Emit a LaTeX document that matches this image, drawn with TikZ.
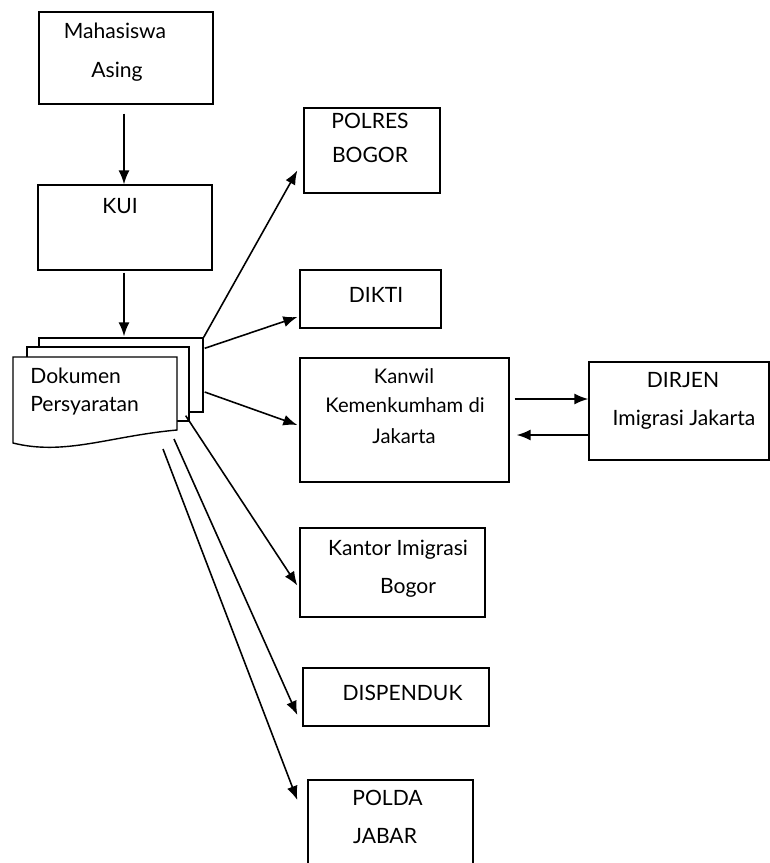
\documentclass[tikz,border=0pt]{standalone}
\usepackage{fontspec}
\setmainfont{Lato}
\usetikzlibrary{arrows.meta,calc}

\begin{document}
\begin{tikzpicture}[x=0.02cm,y=-0.02cm,
    box/.style={draw,line width=0.8pt,inner sep=0pt},
    sheet/.style={draw,line width=0.8pt,fill=white},
    lbl/.style={font=\fontsize{12}{14}\selectfont,inner sep=0pt,anchor=base},
    small/.style={lbl,font=\fontsize{11.5}{14}\selectfont},
    arr/.style={line width=0.9pt,-{Latex[length=2.8mm,width=2.2mm]}}]
  \clip (0,0) rectangle (770,863);
  \fill[white] (0,0) rectangle (770,863);

  % left column
  \node[box,minimum width=3.48cm,minimum height=1.84cm] (mhs) at (126,58) {};
  \node[lbl] (mhsA) at (115,38) {Mahasiswa};
  \node[lbl] (mhsB) at (117,77) {Asing};
  \node[box,minimum width=3.48cm,minimum height=1.70cm] (kui) at (125,227.5) {};
  \node[lbl] (kuiT) at (120,213) {KUI};

  % stack of papers
  \node[sheet,minimum width=3.28cm,minimum height=1.48cm,inner sep=0pt] (docA) at (121,375) {};
  \node[sheet,minimum width=3.24cm,minimum height=1.48cm,inner sep=0pt] (docB) at (108,384) {};
  \draw[sheet] (13,357) -- (177,357) -- (177,430)
    .. controls (110,436) and (65,456) .. (13,443) -- cycle;
  \node[lbl,anchor=base west] (docT1) at (30,383) {Dokumen};
  \node[lbl,anchor=base west] (docT2) at (30,411) {Persyaratan};
  \coordinate (s5) at (174,439);
  \coordinate (s6) at (163,449);

  % right column
  \node[box,minimum width=2.72cm,minimum height=1.70cm] (polres) at (372,150.5) {};
  \node[lbl] (polresA) at (370,128) {POLRES};
  \node[lbl] (polresB) at (370,162) {BOGOR};
  \node[box,minimum width=2.82cm,minimum height=1.16cm] (dikti) at (370.5,299) {};
  \node[lbl] (diktiT) at (376,302) {DIKTI};
  \node[box,minimum width=4.18cm,minimum height=2.48cm] (kanwil) at (404.5,420) {};
  \node[small] (kanwilA) at (404,383) {Kanwil};
  \node[small] (kanwilB) at (405,412) {Kemenkumham di};
  \node[small] (kanwilC) at (404,443) {Jakarta};
  \node[box,minimum width=3.60cm,minimum height=1.96cm] (dirjen) at (679,411) {};
  \node[lbl] (dirjenA) at (683,387) {DIRJEN};
  \node[lbl] (dirjenB) at (684,425) {Imigrasi Jakarta};
  \node[box,minimum width=3.70cm,minimum height=1.78cm] (kantor) at (392.5,572.5) {};
  \node[lbl] (kantorA) at (398,555) {Kantor Imigrasi};
  \node[lbl] (kantorB) at (408,593) {Bogor};
  \node[box,minimum width=3.72cm,minimum height=1.16cm] (dispenduk) at (396,697) {};
  \node[lbl] (dispendukT) at (402.5,700) {DISPENDUK};
  \node[box,minimum width=3.30cm,minimum height=1.90cm] (polda) at (390.5,827.5) {};
  \node[lbl] (poldaA) at (387.5,805) {POLDA};
  \node[lbl] (poldaB) at (385,843) {JABAR};

  % arrows
  \draw[arr] ($(mhs.south)+(-2,9)$) -- ($(kui.north)+(-1,0)$);
  \draw[arr] ($(kui.south)+(-1,2)$) -- ($(docA.north)+(3,-1)$);
  \draw[arr] (docA.north east) -- ($(polres.west)+(-6,20)$);
  \draw[arr] ($(docA.north east)+(1,11)$) -- ($(dikti.west)+(-2,18)$);
  \draw[arr] ($(docA.east)+(1,17)$) -- ($(kanwil.west)+(-2,5)$);
  \draw[arr] ($(docB.south east)+(-4,-6)$) -- ($(kantor.west)+(-2,13)$);
  \draw[arr] (s5) -- ($(dispenduk.west)+(-5,18)$);
  \draw[arr] (s6) -- ($(polda.west)+(-10,-27.5)$);
  \draw[arr] ($(kanwil.east)+(5,-21)$) -- ($(dirjen.west)+(0,-12)$);
  \draw[arr] ($(dirjen.west)+(0,24)$) -- ($(kanwil.east)+(7,15)$);
\end{tikzpicture}
\end{document}
